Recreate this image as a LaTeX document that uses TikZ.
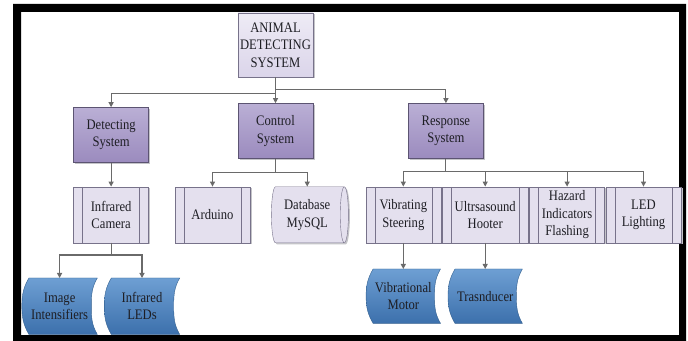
\documentclass[tikz,border=0pt]{standalone}
\usepackage{fontspec}
\setmainfont{Liberation Serif}[FakeStretch=0.87]
\usetikzlibrary{arrows.meta,positioning,shapes.geometric,shadows,backgrounds}
\definecolor{ink}{HTML}{1E1E24}
\definecolor{wire}{HTML}{6A6A6A}
\definecolor{edge}{HTML}{77728A}
\definecolor{rootlight}{HTML}{EEEBF5}
\definecolor{rootdark}{HTML}{DBD5EA}
\definecolor{proclight}{HTML}{BAAFD5}
\definecolor{procdark}{HTML}{9B8BBE}
\definecolor{procedge}{HTML}{5C5472}
\definecolor{lav}{HTML}{E4E0EE}
\definecolor{bluelight}{HTML}{6E9FD3}
\definecolor{bluedark}{HTML}{3C70AC}
\definecolor{blueedge}{HTML}{35618F}
\definecolor{shadowgray}{HTML}{C4C4C8}

\begin{document}
\begin{tikzpicture}[x=1pt,y=1pt,node distance=26pt and 1pt,every node/.style={font=\fontsize{14.5}{17.5}\selectfont,text=ink,align=center},shadowed/.style={general shadow={fill=shadowgray,shadow xshift=1.5pt,shadow yshift=-1.5pt}},topbox/.style={draw=edge,top color=rootlight,bottom color=rootdark,minimum width=75pt,minimum height=64pt,inner sep=0pt,shadowed},procbox/.style={draw=procedge,top color=proclight,bottom color=procdark,minimum width=75pt,minimum height=55pt,inner sep=1pt,shadowed},subbox/.style={draw=edge,fill=lav,minimum width=75pt,minimum height=56pt,inner sep=1pt,shadowed,path picture={\draw[edge] ([xshift=9pt]path picture bounding box.north west) -- ([xshift=9pt]path picture bounding box.south west);\draw[edge] ([xshift=-9pt]path picture bounding box.north east) -- ([xshift=-9pt]path picture bounding box.south east);}},dbbox/.style={cylinder,shape border rotate=0,aspect=0.25,draw=edge,fill=lav,minimum width=56pt,minimum height=77pt,inner sep=1pt,shadowed},storebox/.style={minimum width=75pt,minimum height=56pt,inner sep=1pt},storefill/.style={draw=blueedge,top color=bluelight,bottom color=bluedark},arr/.style={-{Triangle[length=5pt,width=5pt]},draw=wire,line width=1.1pt}]
\useasboundingbox (0,0) rectangle (688,340);
% thick page frame
\fill[black,even odd rule] (13,-6) rectangle (686,336) (21,5) rectangle (679,328);
\node[topbox] (root) at (275.5,295) {ANIMAL\\DETECTING\\SYSTEM};
\node[procbox,below=26pt of root] (ctl) {Control\\System};
\node[procbox,left=89pt of ctl,yshift=-4pt] (det) {Detecting\\System};
\node[procbox,right=95pt of ctl] (resp) {Response\\System};
\node[subbox,below=24pt of det] (cam) {Infrared\\Camera};
\node[subbox,right=26pt of cam] (ard) {Arduino};
\node[dbbox,right=21pt of ard] (db) {Database\\MySQL};
\node[subbox,right=17pt of db] (vib) {Vibrating\\Steering};
\node[subbox,right=1pt of vib,minimum width=86pt] (ult) {Ultrsasound\\Hooter};
\node[subbox,right=1pt of ult] (haz) {Hazard\\Indicators\\Flashing};
\node[subbox,right=1pt of haz] (led) {LED\\Lighting};
\node[storebox,below=35pt of cam,xshift=-51.5pt] (img) {Image\\Intensifiers};
\node[storebox,right=7pt of img] (irled) {Infrared\\LEDs};
\node[storebox,below=26pt of vib,minimum width=74pt,minimum height=54pt] (vmot) {Vibrational\\Motor};
\node[storebox,below=26pt of ult,minimum width=74pt,minimum height=54pt] (trans) {Trasnducer};
% stored data shapes behind the text
\begin{scope}[on background layer]
\foreach \s in {img,irled,vmot,trans}
  \draw[storefill] ([xshift=7pt]\s.north west) -- (\s.north east) to[out=-120,in=90] ([xshift=-6pt]\s.east) to[out=-90,in=120] (\s.south east) -- ([xshift=7pt]\s.south west) to[out=120,in=-90] (\s.west) to[out=90,in=-120] ([xshift=7pt]\s.north west) -- cycle;
\end{scope}
% connectors
\draw[arr] (root.south) -- (ctl.north);
\draw[arr] (root.south) -- ++(0,-16) -| (det.north);
\draw[arr] (root.south) -- ++(0,-12) -| (resp.north);
\draw[arr] (det.south) -- (cam.north);
\draw[arr] (ctl.south) -- ++(0,-14) -| (ard.north);
\draw[arr] (ctl.south) -- ++(0,-14) -| (db.north);
\foreach \t in {vib,ult,haz,led}
  \draw[arr] (resp.south) -- ++(0,-13) -| (\t.north);
\draw[arr] (cam.south) -- ++(0,-12) -| (img.north);
\draw[arr] (cam.south) -- ++(0,-12) -| (irled.north);
\draw[arr] (vib.south) -- (vmot.north);
\draw[arr] (ult.south) -- (trans.north);
\end{tikzpicture}
\end{document}
